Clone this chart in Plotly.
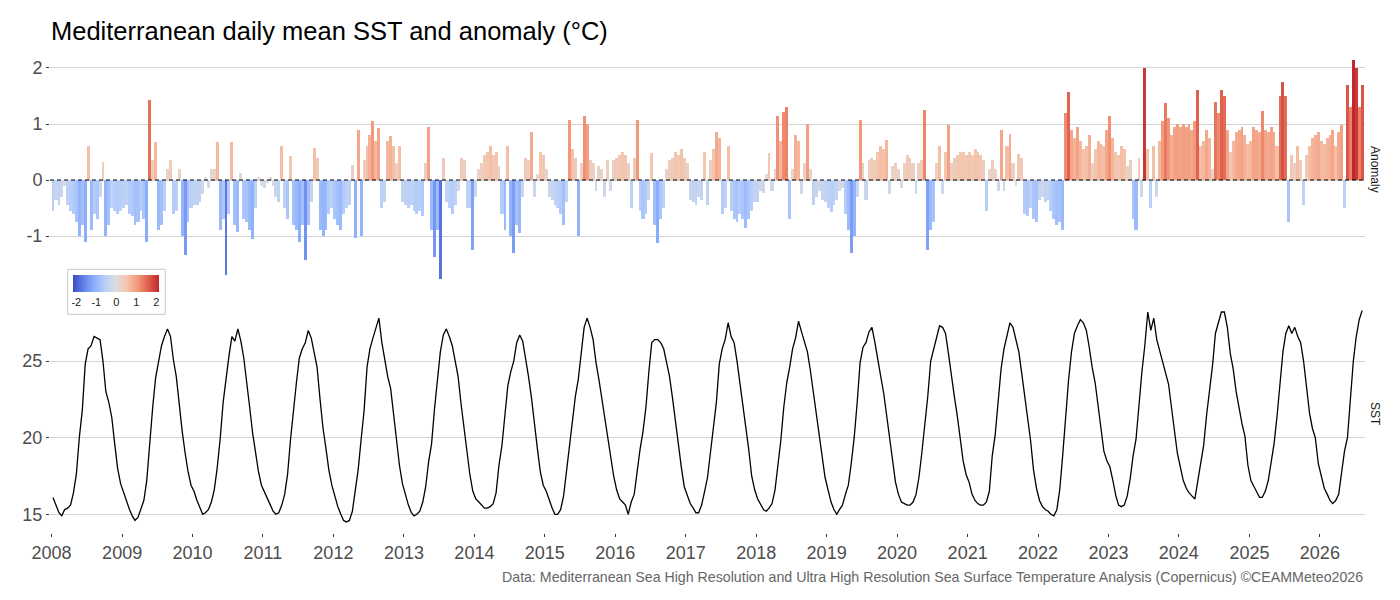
import pandas as pd
import plotly.graph_objects as go

# ---------------- data (semi-monthly values) ----------------
anom_2008 = [-0.55,-0.35,-0.45,-0.3,-0.1,-0.45,-0.55,-0.6,-0.75,-1.0,-0.8,-1.1,0.6,-0.9,-0.6,-0.7,-0.3,0.33,-1.0,-0.8,-0.5,-0.55,-0.6,-0.55]
anom_2009 = [-0.5,-0.45,-0.6,-0.65,-0.8,-0.75,-0.55,-0.7,-1.1,1.43,0.35,0.68,-0.9,-0.8,-0.55,0.2,0.35,-0.6,-0.55,0.2,-1.0,-1.34,-0.75,-0.5]
anom_2010 = [-0.45,-0.45,-0.4,-0.25,0.05,-0.15,0.2,0.2,0.68,-0.9,-0.7,-1.7,-0.6,0.68,-0.8,-0.92,0.12,-0.7,-0.75,-0.9,-1.05,-0.5,0.05,-0.1]
anom_2011 = [-0.15,-0.05,0.05,-0.1,-0.3,-0.4,0.6,-0.5,-0.7,0.42,-0.8,-0.9,-1.1,-0.8,-1.43,-0.8,-0.4,0.57,0.39,-0.9,-1.0,-0.9,-0.6,-0.5]
anom_2012 = [-0.7,-0.8,-0.9,-0.6,-0.5,-0.45,0.27,-1.04,0.9,-1.0,0.35,0.6,0.8,1.06,0.7,0.92,-0.5,-0.4,0.7,0.78,0.6,0.3,0.6,-0.4]
anom_2013 = [-0.45,-0.5,-0.45,-0.55,-0.6,-0.55,-0.65,0.3,0.95,-0.9,-1.37,-0.9,-1.76,0.4,-0.4,-0.5,-0.6,-0.45,-0.2,0.4,0.35,-0.5,-0.5,-1.25]
anom_2014 = [-0.3,0.2,0.3,0.45,0.5,0.6,0.45,0.5,0.25,-0.6,-0.9,0.6,-1.0,-1.3,-0.8,-0.95,-0.3,0.4,0.35,0.85,-0.3,0.1,0.5,0.45]
anom_2015 = [0.2,-0.3,-0.35,-0.45,-0.5,-0.6,-0.8,-0.4,1.08,0.55,0.4,-1.0,0.3,1.15,1.0,0.35,0.3,-0.2,0.25,0.2,-0.3,0.35,-0.2,0.35]
anom_2016 = [0.4,0.45,0.5,0.45,0.3,-0.5,0.4,1.07,-0.55,-0.7,-0.6,-0.35,0.48,-0.8,-1.13,-0.7,-0.5,0.2,0.35,0.4,0.5,0.45,0.55,0.4]
anom_2017 = [0.3,-0.35,-0.4,-0.45,-0.3,-0.35,0.5,-0.45,0.35,0.55,0.85,0.75,-0.6,-0.5,0.6,-0.55,-0.7,-0.75,-0.6,-0.7,-0.86,-0.7,-0.55,-0.4]
anom_2018 = [-0.4,-0.2,-0.24,0.1,0.48,-0.2,0.2,1.15,0.7,1.22,1.3,-0.7,0.2,0.8,0.7,-0.25,0.3,1.0,0.2,-0.45,-0.3,-0.2,-0.35,-0.4]
anom_2019 = [-0.5,-0.57,-0.45,-0.35,-0.2,-0.15,-0.6,-0.9,-1.3,-1.0,-0.3,1.08,0.3,-0.35,0.35,0.4,0.35,0.5,0.6,0.55,0.71,-0.25,0.25,0.3]
anom_2020 = [0.2,-0.15,0.3,0.45,0.4,0.3,-0.25,0.3,0.35,1.25,-1.25,-0.9,-0.75,0.3,0.6,-0.25,0.5,0.98,0.3,0.4,0.45,0.5,0.5,0.45]
anom_2021 = [0.5,0.45,0.55,0.5,0.45,0.35,-0.55,0.2,0.35,0.2,-0.2,0.9,-0.2,0.6,0.82,0.3,-0.1,0.47,0.4,-0.6,-0.65,-0.5,-0.7,-0.75]
anom_2022 = [-0.35,-0.3,-0.4,-0.35,-0.55,-0.7,-0.8,-0.75,-0.9,1.2,1.58,0.9,0.75,0.95,0.7,0.55,0.6,0.8,0.3,0.55,0.7,0.65,0.6,0.9]
anom_2023 = [1.15,0.75,0.5,0.45,0.6,0.55,0.25,0.35,-0.7,-0.9,0.4,-0.3,2.0,0.55,-0.5,0.6,-0.3,0.7,1.05,1.37,1.1,0.8,0.95,1.0]
anom_2024 = [0.95,1.0,0.95,1.0,0.9,1.05,1.6,0.6,0.7,0.9,0.75,0.2,1.4,1.2,1.6,1.5,0.9,0.5,0.7,0.85,0.9,0.95,0.8,0.65]
anom_2025 = [0.7,0.95,0.9,0.85,1.23,0.9,0.85,0.95,0.85,0.6,1.5,1.75,1.5,-0.75,0.45,0.3,0.6,0.35,-0.45,0.45,0.6,0.75,0.8,0.85]
anom_2026 = [0.7,0.65,0.75,0.8,0.9,0.6,0.85,0.98,-0.5,1.7,1.3,2.15,2.0,1.3,1.7]

sst_2008 = [16.1,15.6,15.1,14.9,15.3,15.4,15.6,16.4,17.6,20.0,21.8,24.8,25.8,26.0,26.6,26.5,26.4,25.0,23.0,22.3,21.3,19.6,18.0,17.0]
sst_2009 = [16.4,15.8,15.3,14.9,14.6,14.8,15.3,15.9,17.2,19.9,22.0,23.9,25.0,26.0,26.6,27.1,26.6,25.1,24.0,22.0,20.4,19.0,17.8,16.9]
sst_2010 = [16.5,15.9,15.4,15.0,15.1,15.3,15.8,16.6,18.0,19.9,22.3,24.0,25.3,26.6,26.3,27.1,26.3,25.2,23.8,22.0,20.3,19.0,17.8,16.9]
sst_2011 = [16.5,16.0,15.6,15.2,15.0,15.1,15.6,16.3,17.6,19.9,22.0,23.6,25.2,25.8,26.2,27.0,26.5,25.6,24.6,22.5,20.6,19.3,17.9,16.9]
sst_2012 = [16.2,15.5,15.0,14.6,14.5,14.6,15.2,16.4,17.9,19.9,21.8,24.6,25.8,26.5,27.2,27.8,26.2,25.0,24.0,23.2,21.5,20.0,18.2,17.0]
sst_2013 = [16.3,15.6,15.1,14.9,15.0,15.2,15.8,16.8,18.4,19.6,21.9,24.0,25.6,26.7,27.1,26.6,26.0,25.0,24.0,22.2,20.5,19.2,17.6,16.5]
sst_2014 = [16.0,15.8,15.6,15.4,15.4,15.5,15.7,16.4,18.2,19.5,21.5,23.4,24.3,25.0,26.2,26.7,26.3,25.2,24.0,22.6,20.8,19.3,17.8,16.9]
sst_2015 = [16.5,15.9,15.4,15.0,15.0,15.3,16.2,17.8,19.4,21.2,22.7,23.8,25.6,27.2,27.8,27.2,26.4,24.9,23.8,22.5,21.2,20.1,18.8,17.5]
sst_2016 = [16.6,16.0,15.8,15.6,15.0,15.8,16.3,17.8,19.2,20.4,22.0,24.3,26.2,26.4,26.4,26.2,25.8,24.9,24.0,22.6,21.0,19.5,18.1,16.8]
sst_2017 = [16.3,15.7,15.4,15.1,15.1,15.6,16.5,17.4,19.0,20.6,22.3,24.8,25.8,26.4,27.5,26.6,26.2,25.0,23.6,22.1,20.8,19.2,17.5,16.6]
sst_2018 = [16.0,15.6,15.3,15.2,15.4,15.7,16.6,18.2,19.8,22.0,23.6,24.6,25.8,26.5,27.6,26.9,26.3,25.6,24.4,23.0,21.5,20.3,18.7,17.4]
sst_2019 = [16.6,15.8,15.3,15.0,15.3,15.6,16.3,16.9,18.3,20.0,22.3,24.9,25.9,26.2,26.9,27.2,26.2,25.2,24.0,22.9,21.5,20.0,18.5,17.1]
sst_2020 = [16.3,15.8,15.7,15.6,15.6,15.8,16.3,17.4,19.0,20.7,22.7,25.0,25.7,26.6,27.3,27.2,26.8,25.5,24.0,22.7,21.4,20.0,18.5,17.6]
sst_2021 = [17.1,16.3,15.9,15.7,15.6,15.6,15.8,16.5,18.8,20.2,22.2,24.5,25.8,26.6,27.5,27.2,26.4,25.6,24.2,22.8,21.3,19.8,17.9,16.7]
sst_2022 = [15.9,15.5,15.3,15.2,15.0,14.9,15.3,16.6,18.8,21.4,23.8,25.6,26.8,27.3,27.7,27.5,27.0,25.9,24.6,23.6,22.1,20.7,19.1,18.5]
sst_2023 = [18.1,17.2,16.2,15.6,15.5,15.6,16.2,17.3,18.8,19.9,22.3,24.3,26.0,28.2,27.0,27.8,26.4,25.7,25.1,24.3,23.5,22.0,20.4,19.0]
sst_2024 = [18.1,17.2,16.7,16.4,16.2,16.0,17.2,18.3,19.5,21.5,23.2,24.7,26.8,27.5,28.2,28.2,27.2,25.5,24.5,23.0,21.8,20.9,20.1,18.2]
sst_2025 = [17.2,16.8,16.4,16.1,16.1,16.5,17.2,18.4,19.6,21.4,23.8,25.6,26.8,27.3,26.8,27.2,26.6,26.2,25.0,23.3,21.6,20.6,20.0,18.3]
sst_2026 = [17.4,16.7,16.3,15.9,15.7,15.9,16.3,17.7,19.1,20.0,22.8,25.0,26.6,27.7,28.3]

anomaly = (anom_2008 + anom_2009 + anom_2010 + anom_2011 + anom_2012 + anom_2013 + anom_2014
           + anom_2015 + anom_2016 + anom_2017 + anom_2018 + anom_2019 + anom_2020 + anom_2021
           + anom_2022 + anom_2023 + anom_2024 + anom_2025 + anom_2026)
sst = (sst_2008 + sst_2009 + sst_2010 + sst_2011 + sst_2012 + sst_2013 + sst_2014
       + sst_2015 + sst_2016 + sst_2017 + sst_2018 + sst_2019 + sst_2020 + sst_2021
       + sst_2022 + sst_2023 + sst_2024 + sst_2025 + sst_2026)

anom_tickvals = [-1, 0, 1, 2]
anom_ticktext = ["-1", "0", "1", "2"]
sst_tickvals = [15, 20, 25]
legend_tickvals = [-2, -1, 0, 1, 2]
legend_ticktext = ["-2", "-1", "0", "1", "2"]

title_text = "Mediterranean daily mean SST and anomaly (°C)"
caption_text = ("Data: Mediterranean Sea High Resolution and Ultra High Resolution Sea Surface "
                "Temperature Analysis (Copernicus) ©CEAMMeteo2026")

# ---------------- time index: half-month bins ----------------
starts = []
for yr in range(2008, 2027):
    for mo in range(1, 13):
        starts.append(pd.Timestamp(yr, mo, 1))
        starts.append(pd.Timestamp(yr, mo, 16))
n = len(anomaly)
centers = [starts[i] + (starts[i + 1] - starts[i]) / 2 for i in range(n)]
widths = [(starts[i + 1] - starts[i]).total_seconds() * 1000 for i in range(n)]

# ---------------- styling ----------------
FONT = "Liberation Sans, Arial, Helvetica, sans-serif"
W, H = 1400, 600
PAGE_OFF = 8  # default body margin of the page
# plot area in page pixels: x 50..1365, y 49..533
L, T = 50 - PAGE_OFF, 49 - PAGE_OFF
R = W - (1365 - PAGE_OFF)
B = H - (533 - PAGE_OFF)
PW, PH = W - L - R, H - T - B


def px_x(p):  # page pixel -> paper x
    return (p - PAGE_OFF - L) / PW


def px_y(p):  # page pixel -> paper y
    return (H - B - (p - PAGE_OFF)) / PH


coolwarm = [
    [0.0, "#3b4cc0"], [0.125, "#6282ea"], [0.25, "#8db0fe"], [0.375, "#b9d0f9"],
    [0.5, "#dddddd"], [0.625, "#f5c4ac"], [0.75, "#f4987a"], [0.875, "#de604d"],
    [1.0, "#c0282d"],
]

fig = go.Figure()
fig.add_trace(go.Bar(
    x=centers, y=anomaly, width=widths, xaxis="x", yaxis="y",
    marker=dict(
        color=anomaly, colorscale=coolwarm, cmin=-2.15, cmax=2.15,
        line=dict(width=0), showscale=True,
        colorbar=dict(
            orientation="h", x=px_x(116.3), xanchor="center", y=px_y(275), yanchor="top",
            len=86, lenmode="pixels", thickness=17, thicknessmode="pixels",
            xpad=0, ypad=0, outlinewidth=0, ticks="",
            tickvals=legend_tickvals, ticktext=legend_ticktext,
            tickfont=dict(family=FONT, size=11, color="#222222"),
        ),
    ),
    hoverinfo="skip",
))
fig.add_trace(go.Scatter(
    x=centers, y=sst, xaxis="x2", yaxis="y2", mode="lines",
    line=dict(color="black", width=1.3), hoverinfo="skip",
))

axis_common = dict(showline=False, zeroline=False)
fig.update_layout(
    width=W, height=H,
    margin=dict(l=L, r=R, t=T, b=B, autoexpand=False),
    paper_bgcolor="white", plot_bgcolor="white",
    bargap=0, showlegend=False,
    font=dict(family=FONT),
    xaxis=dict(domain=[0, 1], anchor="y", matches="x2", showticklabels=False, showgrid=False,
               ticks="", **axis_common),
    xaxis2=dict(domain=[0, 1], anchor="y2", type="date",
                range=["2007-12-24", "2026-08-23"],
                tick0="2008-01-01", dtick="M12", tickformat="%Y",
                showgrid=False, ticks="outside", ticklen=3, tickcolor="#333333",
                tickfont=dict(family=FONT, size=18, color="#4d4d4d"), **axis_common),
    yaxis=dict(domain=[px_y(289), 1], anchor="x", range=[-1.946, 2.339],
               tickvals=anom_tickvals, ticktext=anom_ticktext,
               showgrid=True, gridcolor="#d4d4d4", gridwidth=1,
               ticks="outside", ticklen=3, tickcolor="#333333",
               tickfont=dict(family=FONT, size=18, color="#4d4d4d"), **axis_common),
    yaxis2=dict(domain=[0, px_y(295)], anchor="x2", range=[13.78, 29.31],
                tickvals=sst_tickvals,
                showgrid=True, gridcolor="#d4d4d4", gridwidth=1,
                ticks="outside", ticklen=3, tickcolor="#333333",
                tickfont=dict(family=FONT, size=18, color="#4d4d4d"), **axis_common),
)

# dashed zero reference line in the anomaly panel
fig.add_shape(type="line", xref="x domain", x0=0, x1=1, yref="y", y0=0, y1=0,
              line=dict(color="black", width=1.1, dash="4px,3px"), layer="above")

# legend frame
fig.add_shape(type="rect", xref="paper", yref="paper",
              x0=px_x(67.7), x1=px_x(165.3), y0=px_y(314.3), y1=px_y(269.3),
              line=dict(color="#c8c8c8", width=1), fillcolor="rgba(0,0,0,0)", layer="below")

# title
fig.add_annotation(text=title_text, xref="paper", yref="paper", x=px_x(49), y=px_y(31),
                   xanchor="left", yanchor="middle", showarrow=False,
                   font=dict(family=FONT, size=25.5, color="black"))
# caption
fig.add_annotation(text=caption_text, xref="paper", yref="paper", x=1, y=px_y(577),
                   xanchor="right", yanchor="middle", showarrow=False,
                   font=dict(family=FONT, size=14.2, color="#666666"))
# facet strip labels
fig.add_annotation(text="Anomaly", xref="paper", yref="paper", x=px_x(1375), y=px_y(169),
                   xanchor="center", yanchor="middle", showarrow=False, textangle=90,
                   font=dict(family=FONT, size=12, color="#1a1a1a"))
fig.add_annotation(text="SST", xref="paper", yref="paper", x=px_x(1375), y=px_y(414),
                   xanchor="center", yanchor="middle", showarrow=False, textangle=90,
                   font=dict(family=FONT, size=12, color="#1a1a1a"))

fig.write_html("out.html")
